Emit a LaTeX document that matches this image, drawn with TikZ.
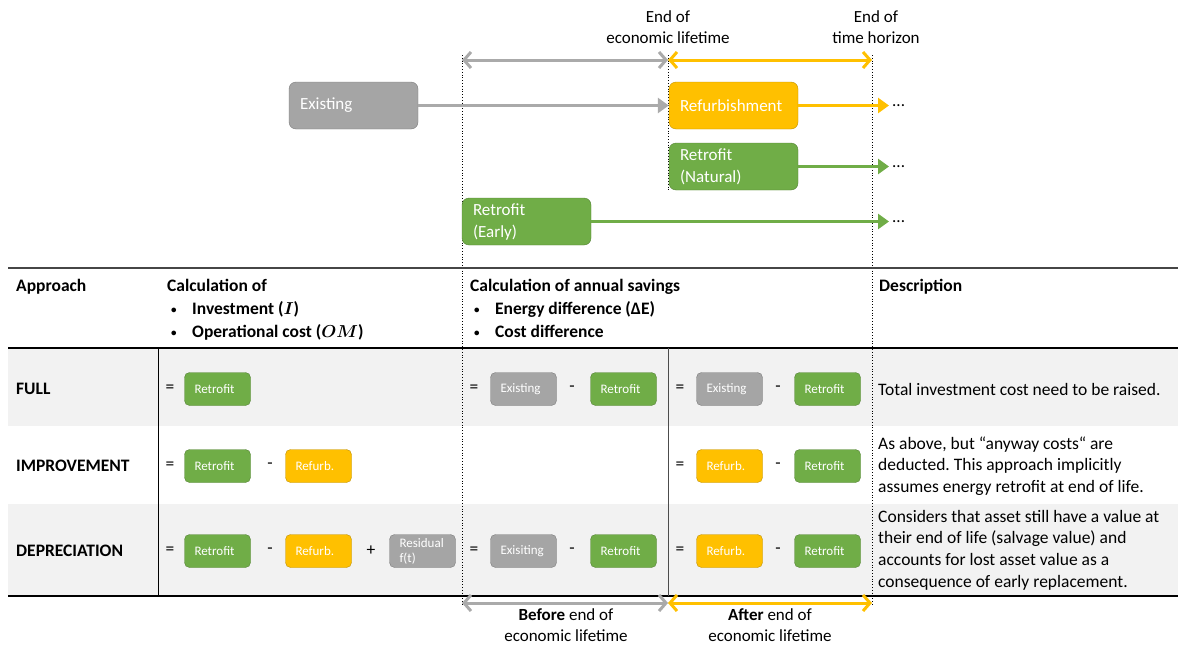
\documentclass[tikz,border=0pt]{standalone}
\usepackage{fontspec}
\setmainfont{Carlito}
\usepackage{amsmath}
\usetikzlibrary{positioning, arrows.meta}
\frenchspacing
\definecolor{retrogreen}{RGB}{112, 173, 71}
\definecolor{refurbyellow}{RGB}{255, 192, 0}
\definecolor{existgray}{RGB}{165, 165, 165}
\definecolor{arrowgray}{RGB}{170, 170, 170}
\definecolor{rowgray}{RGB}{242, 242, 242}
\tikzset{
    bigbox/.style = {draw=#1!75!black, fill=#1, rectangle, rounded corners=7pt, text=white, 
      minimum width=129pt, minimum height=47pt, text width=107pt, inner xsep=11pt, inner ysep=0pt, 
      align=left, font=\fontsize{17}{22}\selectfont},
    smallbox/.style = {draw=#1!75!black, fill=#1, rectangle, rounded corners=5pt, text=white, 
      minimum width=66pt, minimum height=33pt, text width=46pt, inner xsep=10pt, inner ysep=2pt, 
      align=left, font=\fontsize{13}{15}\selectfont},
    textnode/.style = {draw=none, fill=none, rectangle, inner sep=0pt, font=\fontsize{17.5}{22}\selectfont},
    headnode/.style = {textnode, anchor=north west, align=left, font=\fontsize{17.5}{23}\selectfont\bfseries\boldmath},
    descnode/.style = {textnode, anchor=west, align=left, font=\fontsize{17.5}{21.7}\selectfont},
    dotsnode/.style = {textnode, anchor=west, inner xsep=3pt, font=\fontsize{17}{20}\selectfont},
    flow/.style = {line width=3.5pt, -{Triangle[length=11pt, width=15pt]}},
    span/.style = {line width=3pt, {Straight Barb[length=7pt, width=16pt]}-{Straight Barb[length=7pt, width=16pt]}},
    dotline/.style = {black, dotted, line width=0.8pt}
}
\newcommand{\bul}[1]{\hspace*{4pt}\makebox[21pt][l]{\raisebox{0.15ex}{\fontsize{11}{11}\selectfont\textbullet}}#1}

\begin{document}
\begin{tikzpicture}[x=1pt, y=-1pt]
    \useasboundingbox (0,0) rectangle (1178,645);
    % shaded rows
    \fill [rowgray] (8,348) rectangle (1178,426);
    \fill [rowgray] (8,504) rectangle (1178,596);

    % time marks
    \draw [dotline] (462,55) -- (462,606);
    \draw [dotline] (668,55) -- (668,190);
    \draw [dotline] (872,55) -- (872,606);

    \node [name = EndLife, textnode, align=center, font=\fontsize{17}{21}\selectfont] at (668,27.5) {End of\\economic lifetime};
    \node [name = EndHorizon, textnode, align=center, font=\fontsize{17}{21}\selectfont] at (876,27.5) {End of\\time horizon};

    \coordinate (tA) at (462,60);
    \coordinate (tB) at (668,60);
    \coordinate (tC) at (872,60);
    \draw [span, arrowgray] (tA) -- (tB);
    \draw [span, refurbyellow] (tB) -- (tC);

    % pathways
    \node [name = Existing, bigbox=existgray] at (353.5,105.5) {Existing};
    \node [name = Refurb, bigbox=refurbyellow] at (733.5,105.5) {Refurbishment};
    \node [name = Natural, bigbox=retrogreen] at (733.5,166.5) {Retrofit\\(Natural)};
    \node [name = Early, bigbox=retrogreen] at (526.5,221.5) {Retrofit\\(Early)};
    \node [name = DotsA, dotsnode] at (889,105.5) {...};
    \node [name = DotsB, dotsnode] at (889,166.5) {...};
    \node [name = DotsC, dotsnode] at (889,221.5) {...};

    \draw [flow, arrowgray] (Existing) -- (Refurb);
    \draw [flow, refurbyellow] (Refurb) -- (DotsA);
    \draw [flow, retrogreen] (Natural) -- (DotsB);
    \draw [flow, retrogreen] (Early) -- (DotsC);

    % table rules
    \draw [gray!55!black, line width=2pt] (8,268) -- (1178,268);
    \draw [line width=1.2pt] (8,348) -- (1178,348);
    \draw [line width=1.2pt] (8,596) -- (1178,596);
    \draw [line width=0.8pt] (158,348) -- (158,596);
    \draw [line width=0.8pt, gray!60!black] (668,348) -- (668,596);

    % header
    \node [name = HApproach, headnode] at (16,279) {Approach};
    \node [name = HInvest, headnode] at (167,279) {Calculation of\\\bul{Investment ($I$)}\\\bul{Operational cost ($OM$)}};
    \node [name = HSavings, headnode] at (470,279) {Calculation of annual savings\\\bul{Energy difference (ΔE)}\\\bul{Cost difference}};
    \node [name = HDesc, headnode] at (879,279) {Description};

    % row: full
    \node [name = LFull, textnode, anchor=west, font=\fontsize{17.5}{22}\selectfont\bfseries] at (16,389) {FULL};
    \node [name = FEqA, textnode] at (170,389) {=};
    \node [name = FRetA, smallbox=retrogreen] at (217.5,389) {Retrofit};
    \node [name = FEqB, textnode] at (474,389) {=};
    \node [name = FExB, smallbox=existgray] at (523.5,389) {Existing};
    \node [name = FMiB, textnode] at (572,389) {-};
    \node [name = FRetB, smallbox=retrogreen] at (623.5,389) {Retrofit};
    \node [name = FEqC, textnode] at (680,389) {=};
    \node [name = FExC, smallbox=existgray] at (729.5,389) {Existing};
    \node [name = FMiC, textnode] at (778,389) {-};
    \node [name = FRetC, smallbox=retrogreen] at (827.5,389) {Retrofit};
    \node [name = DFull, descnode] at (878,389) {Total investment cost need to be raised.};

    % row: improvement
    \node [name = LImpr, textnode, anchor=west, font=\fontsize{17.5}{22}\selectfont\bfseries] at (16,466) {IMPROVEMENT};
    \node [name = IEqA, textnode] at (170,466) {=};
    \node [name = IRetA, smallbox=retrogreen] at (217.5,466) {Retrofit};
    \node [name = IMiA, textnode] at (270,466) {-};
    \node [name = IRefA, smallbox=refurbyellow] at (318.5,466) {Refurb.};
    \node [name = IEqC, textnode] at (680,466) {=};
    \node [name = IRefC, smallbox=refurbyellow] at (729.5,466) {Refurb.};
    \node [name = IMiC, textnode] at (778,466) {-};
    \node [name = IRetC, smallbox=retrogreen] at (827.5,466) {Retrofit};
    \node [name = DImpr, descnode] at (878,466) {As above, but “anyway costs“ are\\deducted. This approach implicitly\\assumes energy retrofit at end of life.};

    % row: depreciation
    \node [name = LDepr, textnode, anchor=west, font=\fontsize{17.5}{22}\selectfont\bfseries] at (16,551) {DEPRECIATION};
    \node [name = DEqA, textnode] at (170,551) {=};
    \node [name = DRetA, smallbox=retrogreen] at (217.5,551) {Retrofit};
    \node [name = DMiA, textnode] at (270,551) {-};
    \node [name = DRefA, smallbox=refurbyellow] at (318.5,551) {Refurb.};
    \node [name = DPlA, textnode] at (371,551) {+};
    \node [name = DResA, smallbox=existgray] at (422.5,551) {Residual\\f(t)};
    \node [name = DEqB, textnode] at (474,551) {=};
    \node [name = DExB, smallbox=existgray] at (523.5,551) {Exisiting};
    \node [name = DMiB, textnode] at (572,551) {-};
    \node [name = DRetB, smallbox=retrogreen] at (623.5,551) {Retrofit};
    \node [name = DEqC, textnode] at (680,551) {=};
    \node [name = DRefC, smallbox=refurbyellow] at (729.5,551) {Refurb.};
    \node [name = DMiC, textnode] at (778,551) {-};
    \node [name = DRetC, smallbox=retrogreen] at (827.5,551) {Retrofit};
    \node [name = DDepr, descnode] at (878,550) {Considers that asset still have a value at\\their end of life (salvage value) and\\accounts for lost asset value as a\\consequence of early replacement.};

    % spans below
    \coordinate (bA) at (462,603);
    \coordinate (bB) at (668,603);
    \coordinate (bC) at (872,603);
    \draw [span, arrowgray] (bA) -- (bB);
    \draw [span, refurbyellow] (bB) -- (bC);
    \node [name = Before, textnode, align=center, font=\fontsize{17}{21}\selectfont] at (566,625.5) {\textbf{Before} end of\\economic lifetime};
    \node [name = After, textnode, align=center, font=\fontsize{17}{21}\selectfont] at (770,625.5) {\textbf{After} end of\\economic lifetime};
\end{tikzpicture}
\end{document}
